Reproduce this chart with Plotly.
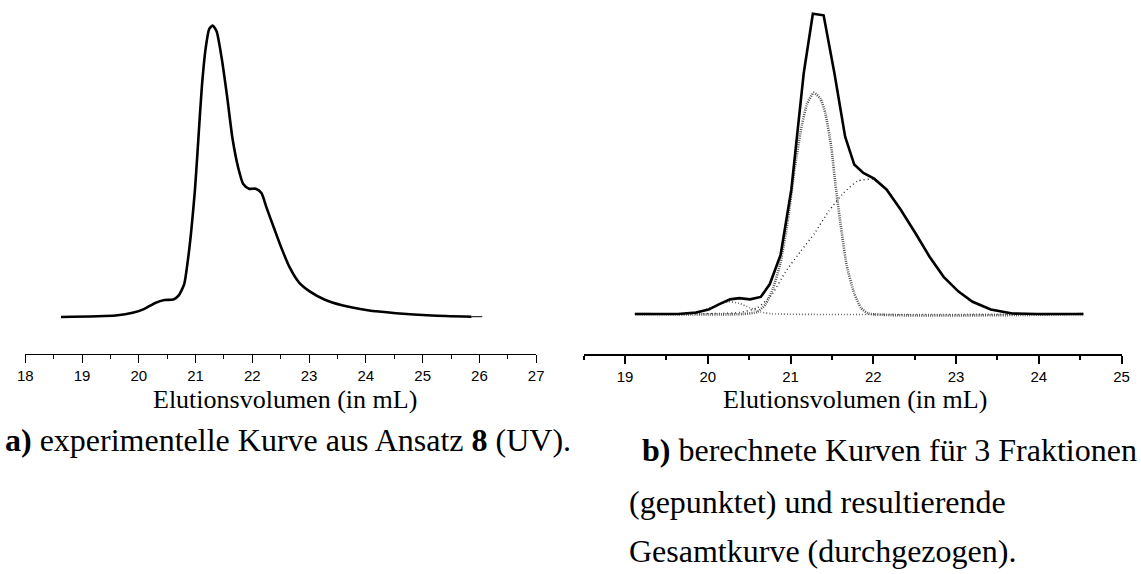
import plotly.graph_objects as go

# ---- Panel a: experimental UV elution curve (normalised signal) ----
vol_a = [18.63, 19.59, 19.91, 20.10, 20.29, 20.45, 20.61, 20.70, 20.80, 20.86,
         20.92, 20.99, 21.05, 21.11, 21.18, 21.24, 21.30, 21.37, 21.46, 21.56,
         21.65, 21.75, 21.84, 21.94, 22.06, 22.16, 22.25, 22.38, 22.51, 22.66,
         22.82, 23.01, 23.27, 23.58, 24.03, 24.53, 25.16, 25.86]
sig_a = [0.000, 0.005, 0.015, 0.028, 0.048, 0.058, 0.060, 0.073, 0.113, 0.188,
         0.288, 0.438, 0.613, 0.788, 0.925, 0.988, 1.000, 0.980, 0.888, 0.750,
         0.613, 0.513, 0.456, 0.440, 0.440, 0.425, 0.375, 0.306, 0.238, 0.169,
         0.119, 0.088, 0.060, 0.040, 0.023, 0.013, 0.005, 0.001]
tail_vol_a = [25.86, 26.05]
tail_sig_a = [0.001, 0.001]

# ---- Panel b: calculated total curve and three fractions ----
vol_total = [19.12, 19.64, 19.86, 20.01, 20.14, 20.27, 20.38, 20.51, 20.64, 20.75,
             20.88, 21.01, 21.16, 21.27, 21.40, 21.53, 21.66, 21.77, 21.88, 22.01,
             22.16, 22.33, 22.51, 22.68, 22.85, 23.03, 23.20, 23.42, 23.68, 23.98, 24.54]
sig_total = [0.000, 0.000, 0.005, 0.015, 0.033, 0.049, 0.053, 0.049, 0.057, 0.100,
             0.197, 0.415, 0.803, 1.000, 0.995, 0.803, 0.591, 0.498, 0.470, 0.451,
             0.415, 0.348, 0.269, 0.191, 0.124, 0.075, 0.041, 0.015, 0.002, 0.000, 0.000]

vol_f1 = [19.12, 20.42, 20.60, 20.70, 20.79, 20.88, 20.97, 21.05, 21.14, 21.20,
          21.28, 21.36, 21.42, 21.49, 21.55, 21.62, 21.68, 21.77, 21.85, 21.94, 24.54]
sig_f1 = [0.000, 0.000, 0.007, 0.033, 0.087, 0.172, 0.316, 0.485, 0.633, 0.700,
          0.737, 0.718, 0.670, 0.561, 0.415, 0.269, 0.160, 0.069, 0.021, 0.002, 0.000]

vol_f2 = [19.12, 20.38, 20.60, 20.77, 20.94, 21.12, 21.29, 21.46, 21.64, 21.81,
          22.00, 22.16, 22.33, 22.51, 22.68, 22.85, 23.03, 23.20, 23.42, 23.68, 23.98, 24.54]
sig_f2 = [0.000, 0.005, 0.021, 0.063, 0.141, 0.208, 0.269, 0.342, 0.403, 0.443,
          0.449, 0.415, 0.348, 0.269, 0.191, 0.124, 0.075, 0.041, 0.015, 0.002, 0.000, 0.000]

vol_f3 = [19.12, 19.77, 19.95, 20.10, 20.25, 20.38, 20.51, 20.64, 20.77, 24.54]
sig_f3 = [0.000, 0.002, 0.012, 0.029, 0.041, 0.036, 0.021, 0.007, 0.001, 0.000]

tick_vals_a = [18, 19, 20, 21, 22, 23, 24, 25, 26, 27]
tick_vals_b = [19, 20, 21, 22, 23, 24, 25]

axis_title = "Elutionsvolumen (in mL)"
caption_a = "<b>a)</b> experimentelle Kurve aus Ansatz <b>8</b> (UV)."
caption_b = ["<b>b)</b> berechnete Kurven für 3 Fraktionen",
             "(gepunktet) und resultierende",
             "Gesamtkurve (durchgezogen)."]

W, H = 1141, 574
SERIF = "Liberation Serif, Times New Roman, serif"
SANS = "Liberation Sans, Arial, sans-serif"

fig = go.Figure()

# panel a
fig.add_trace(go.Scatter(x=vol_a, y=sig_a, mode="lines", xaxis="x", yaxis="y",
                         line=dict(color="black", width=2.6, shape="spline", smoothing=0.6)))
fig.add_trace(go.Scatter(x=tail_vol_a, y=tail_sig_a, mode="lines", xaxis="x", yaxis="y",
                         line=dict(color="black", width=1)))

# panel b: fractions (dotted) under the total (solid)
fig.add_trace(go.Scatter(x=vol_f3, y=sig_f3, mode="lines", xaxis="x2", yaxis="y2",
                         line=dict(color="#666666", width=1.6, dash="1px,2px", shape="spline", smoothing=0.5)))
fig.add_trace(go.Scatter(x=vol_f2, y=sig_f2, mode="lines", xaxis="x2", yaxis="y2",
                         line=dict(color="#222222", width=1.4, dash="1px,3px", shape="spline", smoothing=0.5)))
fig.add_trace(go.Scatter(x=vol_f1, y=sig_f1, mode="lines", xaxis="x2", yaxis="y2",
                         line=dict(color="#555555", width=2.6, dash="1px,1.2px", shape="spline", smoothing=0.5)))
fig.add_trace(go.Scatter(x=vol_total, y=sig_total, mode="lines", xaxis="x2", yaxis="y2",
                         line=dict(color="black", width=2.6)))

# plot-area geometry in pixels
ax_y = 354.0                       # x-axis line, px from top
xa0, xa1 = 17.5, 535.7             # panel a axis ends (18 .. 27)
xb0, xb1 = 583.8, 1129.4           # panel b axis ends (18.5 .. 25)
ydom = [1 - ax_y / H, 1.0]

common_x = dict(showgrid=False, zeroline=False, showline=True, linecolor="black",
                ticks="outside", tickcolor="black", ticklen=8,
                tickfont=dict(family=SANS, size=15, color="black"),
                fixedrange=True)

fig.update_layout(
    width=W, height=H, margin=dict(l=0, r=0, t=0, b=0),
    paper_bgcolor="white", plot_bgcolor="white", showlegend=False,
    xaxis=dict(domain=[xa0 / W, xa1 / W], range=[18, 27], anchor="y",
               tickvals=tick_vals_a, linewidth=1.2, tickwidth=1.2,
               minor=dict(dtick=0.5, ticks="outside", ticklen=4, tickcolor="black", tickwidth=1.2),
               **common_x),
    yaxis=dict(domain=ydom, range=[-0.127, 1.0875], visible=False, fixedrange=True),
    xaxis2=dict(domain=[xb0 / W, xb1 / W], range=[18.5, 25], anchor="y2",
                tickvals=tick_vals_b, linewidth=2, tickwidth=2,
                minor=dict(dtick=0.5, ticks="outside", ticklen=4, tickcolor="black", tickwidth=2),
                **common_x),
    yaxis2=dict(domain=ydom, range=[-0.133, 1.046], visible=False, fixedrange=True),
)

def px_x(px):
    return px / W

def px_y(px):
    return 1 - px / H

annotations = [
    dict(text=axis_title, x=px_x(281), y=px_y(399), font=dict(family=SERIF, size=26)),
    dict(text=axis_title, x=px_x(859), y=px_y(399), font=dict(family=SERIF, size=26)),
    dict(text=caption_a, x=px_x(-5), y=px_y(440), xanchor="left", font=dict(family=SERIF, size=32)),
    dict(text=caption_b[0], x=px_x(641), y=px_y(450), xanchor="left", font=dict(family=SERIF, size=32)),
    dict(text=caption_b[1], x=px_x(628), y=px_y(502), xanchor="left", font=dict(family=SERIF, size=32)),
    dict(text=caption_b[2], x=px_x(628), y=px_y(551), xanchor="left", font=dict(family=SERIF, size=32)),
]
for a in annotations:
    a.setdefault("xanchor", "center")
    a.update(xref="paper", yref="paper", yanchor="middle", showarrow=False)
    a["font"]["color"] = "black"
fig.update_layout(annotations=annotations)

fig.write_html("out.html")
